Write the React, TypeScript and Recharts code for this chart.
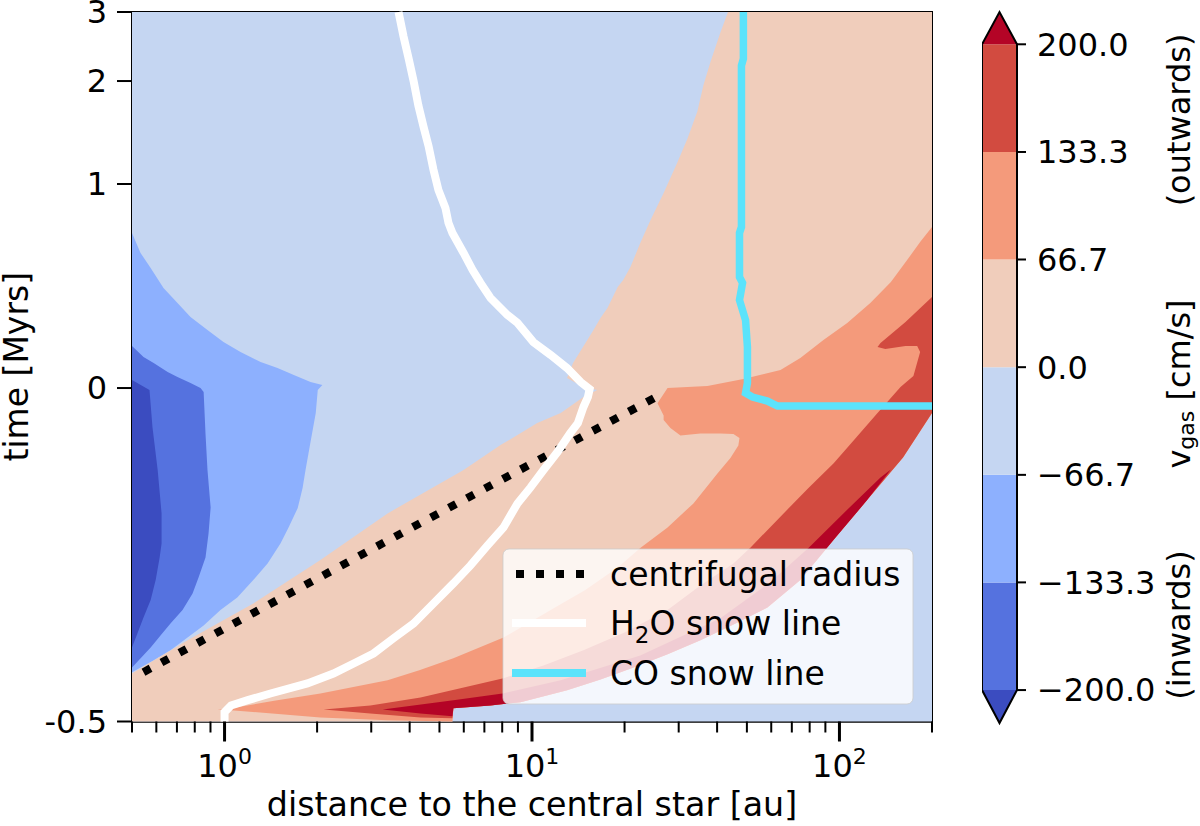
import { ComposedChart, Legend, ReferenceArea, Scatter, XAxis, YAxis } from "recharts";

const FONT = "DejaVu Sans";

// outer edge of the disc: shared by the warm contours (au, Myrs), from outer to inner
const edgeR = [200, 161, 123, 95.6, 74.6, 58.3, 45.9, 35.3, 27.6, 21.4, 16.7, 13.0, 9.17, 7.33, 5.55];
const edgeT = [-0.0375, -0.104, -0.168, -0.228, -0.288, -0.329, -0.353, -0.378, -0.399, -0.419, -0.437, -0.453, -0.471, -0.476, -0.48];

const darkBlueR = [0.5, 0.57, 0.583, 0.606, 0.624, 0.624, 0.615, 0.597, 0.575, 0.545, 0.5];
const darkBlueT = [0.039, -0.003, -0.059, -0.123, -0.188, -0.233, -0.254, -0.288, -0.318, -0.344, -0.389];

const midBlueR = [0.5, 0.545, 0.588, 0.653, 0.703, 0.775, 0.835, 0.855, 0.867, 0.88, 0.901, 0.887, 0.867, 0.823, 0.787, 0.73, 0.667, 0.619, 0.575, 0.5];
const midBlueT = [0.206, 0.152, 0.123, 0.078, 0.054, 0.025, 0, -0.006, -0.068, -0.123, -0.179, -0.218, -0.254, -0.284, -0.308, -0.333, -0.353, -0.371, -0.389, -0.419];

const blueR = [0.5, 0.533, 0.575, 0.633, 0.703, 0.775, 0.88, 0.992, 1.127, 1.31, 1.487, 1.68, 1.904, 2.08, 2.01, 1.98, 1.9, 1.834, 1.794, 1.73, 1.615, 1.52, 1.38, 1.24, 1.1, 0.97, 0.855, 0.758, 0.667, 0.588, 0.5];
const blueT = [0.76, 0.662, 0.588, 0.49, 0.417, 0.348, 0.284, 0.225, 0.176, 0.127, 0.098, 0.064, 0.029, 0.015, -0.003, -0.0375, -0.083, -0.123, -0.15, -0.18, -0.209, -0.233, -0.263, -0.288, -0.314, -0.333, -0.356, -0.374, -0.393, -0.408, -0.426];

const warmR = [43.4, 41.0, 38.1, 36.1, 34.5, 32.0, 29.7, 26.8, 24.3, 22.5, 20.9, 19.8, 19.0, 17.6, 16.7, 15.85, 13.6, 13.0, 14.7, 16.3, 14.7, 12.4, 10.4, 7.9, 5.99, 3.39, 2.05, 1.24, 0.758, 0.5, 0.5, 5.51];
const warmT = [3, 2.704, 2.282, 1.96, 1.703, 1.436, 1.208, 0.956, 0.824, 0.711, 0.593, 0.529, 0.495, 0.392, 0.343, 0.284, 0.123, 0.049, 0.005, -0.003, -0.0135, -0.0375, -0.0526, -0.0856, -0.123, -0.188, -0.258, -0.323, -0.378, -0.428, -0.5, -0.5];

const orangeTopR = [0.949, 1.05, 1.45, 2.05, 3.39, 4.3, 5.55, 8.08, 11.5, 14.9, 19.0, 22.5, 27.6, 33.5, 40.1, 44.2, 46.9, 47.3, 45.2, 41.0, 35.3, 30.4, 28.2, 26.8, 26.8, 25.6, 27.6, 37.2, 48.7, 64.3, 74.6, 88.7, 106, 126, 147, 166, 183, 200];
const orangeTopT = [-0.482, -0.48, -0.469, -0.458, -0.438, -0.423, -0.405, -0.374, -0.333, -0.303, -0.269, -0.24, -0.209, -0.173, -0.128, -0.105, -0.086, -0.075, -0.069, -0.068, -0.068, -0.071, -0.06, -0.048, -0.041, -0.023, 0, 0.01, 0.044, 0.088, 0.147, 0.235, 0.319, 0.417, 0.52, 0.627, 0.716, 0.789];
const orangeLowR = [5.51, 3.39, 2.05, 1.05];
const orangeLowT = [-0.5, -0.498, -0.494, -0.483];

const redR = [200, 164, 136, 133, 141, 164, 179, 183, 174, 158, 133, 113, 95.6, 79.3, 65.8, 51.4, 45.2, 35.3, 27.6, 20.1, 14.7, 10.9, 8.08, 5.85, 4.34, 2.98, 2.1, 2.98, 4.34, 5.51];
const redT = [0.446, 0.324, 0.221, 0.201, 0.191, 0.206, 0.206, 0.176, 0.059, 0.005, -0.0375, -0.075, -0.113, -0.15, -0.188, -0.239, -0.263, -0.296, -0.333, -0.366, -0.393, -0.416, -0.435, -0.45, -0.464, -0.476, -0.482, -0.488, -0.494, -0.495];

const darkRedR = [3.27, 5.55, 8.02, 12.4, 22.5, 41.0, 59.6, 79.3, 103, 136, 147];
const darkRedT = [-0.482, -0.468, -0.458, -0.438, -0.401, -0.345, -0.291, -0.24, -0.188, -0.134, -0.122];
const darkRedLowR = [5.51, 4.34];
const darkRedLowT = [-0.492, -0.488];

const waterR = [3.68, 3.82, 3.97, 4.12, 4.27, 4.44, 4.61, 4.78, 4.96, 5.23, 5.35, 5.51, 5.99, 6.41, 6.8, 7.33, 8.32, 8.97, 10.1, 11.5, 13.0, 14.4, 15.4, 15.2, 14.7, 14.1, 13.3, 12.1, 10.9, 9.89, 8.97, 8.08, 7.17, 6.31, 5.55, 4.78, 4.12, 3.55, 3.05, 2.63, 2.26, 1.86, 1.41, 1.19, 1.05, 1.0, 1.0];
const waterT = [3, 2.648, 2.324, 2, 1.762, 1.554, 1.366, 1.139, 0.971, 0.882, 0.809, 0.76, 0.662, 0.578, 0.515, 0.441, 0.358, 0.319, 0.225, 0.162, 0.098, 0.029, -0.0015, -0.0135, -0.0285, -0.0526, -0.068, -0.096, -0.123, -0.149, -0.173, -0.209, -0.236, -0.266, -0.293, -0.323, -0.353, -0.375, -0.398, -0.413, -0.428, -0.443, -0.458, -0.468, -0.476, -0.486, -0.5];

const coR = [48.7, 48.7, 48.0, 48.0, 47.3, 47.3, 48.4, 47.3, 49.5, 50.2, 50.2, 49.5, 52.1, 58.3, 62.9, 200];
const coT = [3, 2.324, 2.225, 0.789, 0.76, 0.544, 0.515, 0.431, 0.333, 0.201, 0.025, -0.0075, -0.0135, -0.0195, -0.027, -0.027];

const centrifugalR = [0.545, 3.82, 26.8];
const centrifugalT = [-0.426, -0.216, -0.0075];

const rTicks = [0.5, 0.6, 0.7, 0.8, 0.9, 1, 2, 3, 4, 5, 6, 7, 8, 9, 10, 20, 30, 40, 50, 60, 70, 80, 90, 100, 200];
const decades = [1, 10, 100];
const timeTicks = [-0.5, 0, 1, 2, 3];
const timeStops = [0, 0.47, 0.7576, 0.9027, 1]; // share of the axis height at each time tick

const levels = [-200, -133.3, -66.7, 0, 66.7, 133.3, 200];
const levelLabels = ["\u2212200.0", "\u2212133.3", "\u221266.7", "0.0", "66.7", "133.3", "200.0"];
const levelColors = ["#5572df", "#8db0fe", "#c5d6f2", "#f0cdbb", "#f49a7b", "#d24b40"];
const underColor = "#3b4cc0";
const overColor = "#b40426";
const barEnds = [-220.4, 220];

const table = (xs: number[], ys: number[]) => xs.map((x, i) => ({ x, y: ys[i] }));

const warmBand = table(warmR, warmT).concat(table([...edgeR].reverse(), [...edgeT].reverse()), table([200], [3]));
const orangeBand = table(orangeTopR, orangeTopT).concat(table(edgeR, edgeT), table(orangeLowR, orangeLowT));
const redBand = table(redR, redT).concat(table([...edgeR].reverse(), [...edgeT].reverse()));
const darkRedBand = table(darkRedR, darkRedT).concat(table(edgeR.slice(2), edgeT.slice(2)), table(darkRedLowR, darkRedLowT));
const frame = table([0.5, 200, 200, 0.5], [-0.5, -0.5, 3, 3]);

const contours = [
  { data: frame, color: "#c5d6f2" },
  { data: table(blueR, blueT), color: "#8db0fe" },
  { data: table(midBlueR, midBlueT), color: "#5572df" },
  { data: table(darkBlueR, darkBlueT), color: "#3b4cc0" },
  { data: warmBand, color: "#f0cdbb" },
  { data: orangeBand, color: "#f49a7b" },
  { data: redBand, color: "#d24b40" },
  { data: darkRedBand, color: "#b40426" },
];

// piecewise axis for time: the original plot stretches the collapse phase
function timeScale() {
  let dom = [-0.5, 3];
  let rng = [1, 0];
  const scale: any = (t: number) => {
    let i = 0;
    while (i < timeTicks.length - 2 && t > timeTicks[i + 1]) i++;
    const share = (t - timeTicks[i]) / (timeTicks[i + 1] - timeTicks[i]);
    const pos = timeStops[i] + share * (timeStops[i + 1] - timeStops[i]);
    return rng[0] + pos * (rng[1] - rng[0]);
  };
  scale.domain = (d?: number[]) => (d ? ((dom = d), scale) : dom);
  scale.range = (r?: number[]) => (r ? ((rng = r), scale) : rng);
  scale.copy = () => timeScale().domain(dom).range(rng);
  scale.ticks = () => timeTicks;
  scale.invert = (p: number) => p;
  return scale;
}

function RadiusTick({ x, y, payload }: any) {
  const major = decades.includes(payload.value);
  return (
    <g>
      <line x1={x} x2={x} y1={y} y2={y + (major ? 20 : 11)} stroke="#000" strokeWidth={major ? 3 : 2} />
      {major && (
        <text x={x} y={y + 55} textAnchor="middle" fontSize={32} fontFamily={FONT} fill="#000">
          10
          <tspan dy={-13} fontSize={22}>
            {Math.round(Math.log10(payload.value))}
          </tspan>
        </text>
      )}
    </g>
  );
}

function LineKey() {
  return (
    <svg width={412} height={157} style={{ display: "block" }}>
      <rect x={1} y={1} width={410} height={155} rx={6} fill="#fff" fillOpacity={0.8} stroke="#ccc" strokeOpacity={0.8} />
      <line x1={14} x2={84} y1={26} y2={26} stroke="#000" strokeWidth={8} strokeDasharray="8 12" />
      <line x1={10} x2={84} y1={75} y2={75} stroke="#fff" strokeWidth={8} />
      <line x1={10} x2={84} y1={125} y2={125} stroke="#5be3fb" strokeWidth={8} />
      <g fontFamily={FONT} fontSize={33} fill="#000">
        <text x={108} y={38}>centrifugal radius</text>
        <text x={108} y={87}>
          H<tspan dy={8} fontSize={23}>2</tspan>
          <tspan dy={-8}>O snow line</tspan>
        </text>
        <text x={108} y={137}>CO snow line</text>
      </g>
    </svg>
  );
}

function DiscPanel() {
  return (
    <ComposedChart width={1200} height={826} margin={{ top: 12, right: 268, bottom: 0, left: 0 }} style={{ position: "absolute", left: 0, top: 0 }}>
      <XAxis
        type="number"
        dataKey="x"
        scale="log"
        domain={[0.5, 200]}
        ticks={rTicks}
        interval={0}
        height={104.5}
        tick={<RadiusTick />}
        tickSize={0}
        tickMargin={0}
        tickLine={false}
        axisLine={{ stroke: "#000", strokeWidth: 2 }}
        label={{ value: "distance to the central star [au]", position: "insideBottom", offset: 10, fontSize: 33.3, fontFamily: FONT, fill: "#000" }}
      />
      <YAxis
        type="number"
        dataKey="y"
        scale={timeScale()}
        domain={[-0.5, 3]}
        ticks={timeTicks}
        interval={0}
        width={132}
        tickSize={15}
        tickMargin={10}
        tick={{ fontSize: 32, fontFamily: FONT, fill: "#000" }}
        tickLine={{ stroke: "#000", strokeWidth: 2 }}
        axisLine={{ stroke: "#000", strokeWidth: 2 }}
        label={{ value: "time [Myrs]", angle: -90, position: "insideLeft", offset: 16, fontSize: 33, fontFamily: FONT, fill: "#000", style: { textAnchor: "middle" } }}
      />
      {contours.map((c) => (
        <Scatter key={c.color} data={c.data} fill={c.color} line={{ fill: c.color, stroke: "none" }} shape={() => null} isAnimationActive={false} />
      ))}
      <Scatter data={table(centrifugalR, centrifugalT)} line={{ stroke: "#000", strokeWidth: 8, strokeDasharray: "8 12.4", fill: "none" }} shape={() => null} isAnimationActive={false} />
      <Scatter data={table(waterR, waterT)} line={{ stroke: "#fff", strokeWidth: 8, fill: "none" }} shape={() => null} isAnimationActive={false} />
      <Scatter data={table(coR, coT)} line={{ stroke: "#5be3fb", strokeWidth: 7.5, fill: "none" }} shape={() => null} isAnimationActive={false} />
      <ReferenceArea x1={0.5} x2={200} y1={-0.5} y2={3} fill="none" stroke="#000" strokeWidth={2} />
      <Legend layout="vertical" align="center" verticalAlign="middle" content={<LineKey />} wrapperStyle={{ left: 502, top: 548, width: 412, height: 157 }} />
    </ComposedChart>
  );
}

function ColorBar() {
  const bands = levelColors.map((color, i) => ({
    color,
    data: table([0, 1, 1, 0], [levels[i], levels[i], levels[i + 1], levels[i + 1]]),
  }));
  const under = table([0, 0.5, 1], [levels[0], barEnds[0], levels[0]]);
  const over = table([0, 0.5, 1], [levels[6], barEnds[1], levels[6]]);
  const outline = table([0, 0.5, 1, 1, 0.5, 0, 0], [levels[0], barEnds[0], levels[0], levels[6], barEnds[1], levels[6], levels[0]]);
  return (
    <ComposedChart width={218} height={826} margin={{ top: 12, right: 0, bottom: 103, left: 0 }} style={{ position: "absolute", left: 982, top: 0 }}>
      <XAxis type="number" dataKey="x" domain={[0, 1]} hide height={0} />
      <YAxis
        type="number"
        dataKey="y"
        orientation="right"
        domain={barEnds}
        ticks={levels}
        interval={0}
        width={183}
        tickSize={9}
        tickMargin={11}
        tickFormatter={(v: number) => levelLabels[levels.indexOf(v)]}
        tick={{ fontSize: 32, fontFamily: FONT, fill: "#000" }}
        tickLine={{ stroke: "#000", strokeWidth: 2 }}
        axisLine={false}
      />
      {bands.map((b) => (
        <Scatter key={b.color} data={b.data} line={{ fill: b.color, stroke: "none" }} shape={() => null} isAnimationActive={false} />
      ))}
      <Scatter data={under} line={{ fill: underColor, stroke: "none" }} shape={() => null} isAnimationActive={false} />
      <Scatter data={over} line={{ fill: overColor, stroke: "none" }} shape={() => null} isAnimationActive={false} />
      <Scatter data={outline} line={{ fill: "none", stroke: "#000", strokeWidth: 2 }} shape={() => null} isAnimationActive={false} />
      <g fontFamily={FONT} fontSize={32} fill="#000" textAnchor="middle">
        <text transform="translate(208 120) rotate(-90)">(outwards)</text>
        <text transform="translate(208 384) rotate(-90)">
          v<tspan dy={4} fontSize={22}>gas</tspan>
          <tspan dy={-4}> [cm/s]</tspan>
        </text>
        <text transform="translate(208 625) rotate(-90)">(inwards)</text>
      </g>
    </ComposedChart>
  );
}

export default function App() {
  return (
    <div style={{ position: "absolute", left: 0, top: 0, width: 1200, height: 826, background: "#fff", overflow: "hidden" }}>
      <DiscPanel />
      <ColorBar />
    </div>
  );
}
